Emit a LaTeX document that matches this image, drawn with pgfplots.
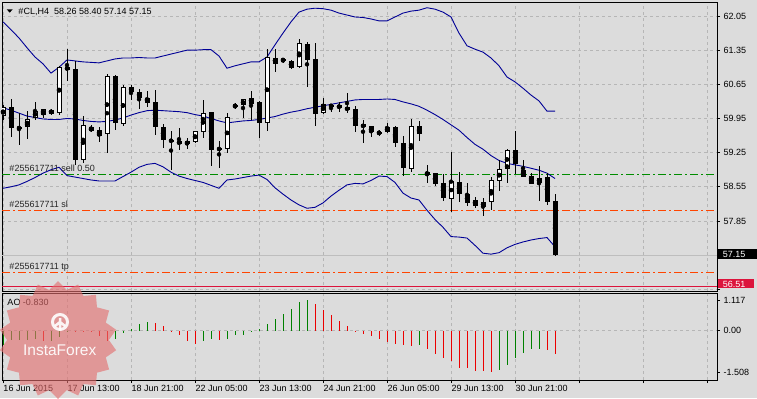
\documentclass[border=0pt]{standalone}
\usepackage{pgfplots}
\pgfplotsset{compat=1.18}
\usepackage{pgfplotstable}
\usepackage{fontspec}
\setmainfont{Liberation Sans}
\usetikzlibrary{shapes.geometric}

\definecolor{bg}{RGB}{220,220,220}
\definecolor{gridc}{RGB}{182,182,182}
\definecolor{band}{RGB}{0,0,150}
\definecolor{sellc}{RGB}{0,140,0}
\definecolor{slc}{RGB}{255,69,0}
\definecolor{crim}{RGB}{220,20,60}
\definecolor{aog}{RGB}{0,128,0}
\definecolor{aor}{RGB}{235,0,0}
\definecolor{bidc}{RGB}{190,190,190}
\definecolor{wm}{RGB}{228,110,110}

\newcommand{\lbl}{\fontsize{9bp}{10bp}\selectfont}

\pgfplotstableread{
i o h l c
0 60.00 60.22 59.92 60.18
1 60.18 60.36 59.58 59.75
2 59.76 60.06 59.41 59.75
3 59.77 60.11 59.54 59.95
4 59.97 60.29 59.92 60.10
5 60.03 60.15 59.97 60.14
6 60.12 60.15 60.03 60.05
7 60.07 61.03 60.02 61.00
8 61.00 61.37 60.72 60.95
9 60.96 61.13 59.00 59.10
10 59.10 60.00 59.03 59.81
11 59.77 59.82 59.67 59.69
12 59.71 59.77 59.47 59.60
13 59.64 60.87 59.25 60.83
14 60.83 60.85 59.71 59.86
15 59.84 60.63 59.80 60.60
16 60.60 60.63 60.32 60.50
17 60.49 60.55 60.14 60.38
18 60.38 60.51 60.18 60.27
19 60.29 60.53 59.61 59.78
20 59.78 59.84 59.35 59.51
21 59.50 59.70 58.89 59.49
22 59.48 59.75 59.30 59.43
23 59.42 59.55 59.33 59.48
24 59.47 59.70 59.44 59.69
25 59.68 60.32 59.56 60.06
26 60.08 60.08 58.98 59.30
27 59.35 59.49 58.94 59.30
28 59.32 60.06 59.25 59.99
29 60.21 60.26 60.14 60.21
30 60.22 60.36 59.97 60.34
31 60.38 60.51 59.92 60.25
32 60.29 60.30 59.56 59.86
33 59.86 61.37 59.70 61.22
34 61.20 61.37 60.90 61.07
35 61.15 61.20 61.08 61.15
36 61.13 61.15 60.96 60.99
37 61.01 61.57 60.99 61.49
38 61.48 61.52 60.60 61.15
39 61.16 61.49 59.80 60.04
40 60.06 60.38 60.04 60.24
41 60.23 60.24 60.09 60.19
42 60.23 60.29 60.09 60.16
43 60.18 60.47 60.06 60.12
44 60.14 60.21 59.68 59.80
45 59.83 59.92 59.44 59.77
46 59.79 59.80 59.58 59.67
47 59.66 59.72 59.60 59.65
48 59.67 59.85 59.66 59.77
49 59.78 59.79 59.36 59.45
50 59.44 59.60 58.78 58.94
51 58.92 59.95 58.86 59.79
52 59.79 59.89 59.50 59.64
53 58.85 58.99 58.63 58.80
54 58.83 58.84 58.57 58.61
55 58.62 58.81 58.26 58.33
56 58.31 59.27 58.04 58.66
57 58.64 58.86 58.25 58.40
58 58.40 58.62 58.15 58.22
59 58.28 58.35 58.12 58.16
60 58.14 58.33 57.96 58.24
61 58.24 58.76 58.07 58.68
62 58.68 59.10 58.47 58.91
63 58.92 59.32 58.62 59.30
64 59.30 59.70 58.81 59.01
65 58.89 59.10 58.76 58.76
66 58.77 58.84 58.61 58.61
67 58.62 58.98 58.27 58.74
68 58.76 58.83 58.17 58.25
69 58.26 58.40 57.14 57.15
}\candles

\pgfplotstableread{
i up mid lo
0 61.93 60.17 58.52
1 61.77 60.12 58.55
2 61.60 60.06 58.59
3 61.40 60.00 58.66
4 61.21 59.97 58.74
5 61.07 59.94 58.83
6 60.88 59.93 58.90
7 61.00 59.93 58.95
8 61.15 59.95 58.78
9 61.13 59.94 58.75
10 61.11 59.91 58.72
11 61.10 59.89 58.69
12 61.09 59.88 58.67
13 61.13 59.89 58.67
14 61.17 59.92 58.67
15 61.19 59.96 58.76
16 61.19 60.02 58.85
17 61.20 60.07 58.95
18 61.19 60.11 59.01
19 61.19 60.12 59.03
20 61.23 60.11 58.96
21 61.27 60.10 58.85
22 61.31 60.09 58.77
23 61.35 60.07 58.72
24 61.35 60.03 58.68
25 61.36 60.00 58.64
26 61.36 59.95 58.58
27 61.23 59.90 58.52
28 60.98 59.86 58.69
29 61.03 59.88 58.71
30 61.07 59.90 58.74
31 61.11 59.91 58.77
32 61.11 59.93 58.79
33 61.21 59.96 58.70
34 61.46 59.99 58.53
35 61.70 60.04 58.40
36 61.93 60.08 58.28
37 62.13 60.11 58.18
38 62.19 60.15 58.11
39 62.21 60.18 58.13
40 62.20 60.21 58.22
41 62.17 60.24 58.36
42 62.11 60.27 58.48
43 62.07 60.30 58.59
44 62.03 60.33 58.62
45 62.02 60.34 58.61
46 61.99 60.34 58.68
47 61.95 60.34 58.77
48 61.95 60.35 58.76
49 62.03 60.34 58.64
50 62.11 60.29 58.42
51 62.15 60.25 58.32
52 62.17 60.20 58.28
53 62.22 60.12 58.07
54 62.19 60.03 57.88
55 62.13 59.93 57.72
56 62.03 59.82 57.53
57 61.70 59.71 57.52
58 61.44 59.56 57.50
59 61.37 59.42 57.35
60 61.31 59.32 57.19
61 61.19 59.19 57.17
62 61.03 59.09 57.20
63 60.80 59.03 57.30
64 60.70 59.00 57.37
65 60.57 58.97 57.42
66 60.43 58.93 57.46
67 60.31 58.89 57.49
68 60.10 58.83 57.51
69 60.10 58.72 57.32
}\bands

\pgfplotstableread{
i v
0 -0.51
1 -0.33
2 -0.33
3 -0.33
4 -0.31
6 -0.37
7 -0.22
8 -0.02
14 -0.29
15 -0.09
16 0.05
17 0.24
18 0.30
25 -0.37
26 -0.31
28 -0.31
29 -0.17
30 -0.17
31 -0.04
32 0.07
33 0.24
34 0.42
35 0.61
36 0.79
37 1.03
38 1.117
52 -0.53
62 -1.41
63 -1.24
64 -1.00
65 -0.82
66 -0.68
67 -0.68
}\aogreen

\pgfplotstableread{
i v
5 -0.39
9 -0.03
10 -0.04
11 -0.05
12 -0.20
13 -0.39
19 0.27
20 0.17
21 -0.02
22 -0.17
23 -0.37
24 -0.48
27 -0.33
39 0.98
40 0.77
41 0.56
42 0.35
43 0.17
44 -0.01
45 -0.11
46 -0.20
47 -0.29
48 -0.40
49 -0.48
50 -0.53
51 -0.57
53 -0.67
54 -0.84
55 -0.98
56 -1.11
57 -1.34
58 -1.37
59 -1.45
60 -1.48
61 -1.508
68 -0.69
69 -0.83
}\aored

\begin{document}
\begin{tikzpicture}[x=1bp,y=1bp]
\useasboundingbox (0,0) rectangle (757,398);
\fill[bg] (0,0) rectangle (757,398);

% ---------- main price panel ----------
\begin{axis}[
  at={(2bp,107bp)}, anchor=south west,
  scale only axis, width=715bp, height=288.7bp,
  xmin=-0.125, xmax=89.25, ymin=56.415, ymax=62.331,
  axis line style={black, line width=0.8bp},
  xtick={0,8,...,88}, xticklabels={},
  xtick style={draw=none},
  ytick={56.45,57.15,57.85,58.55,59.25,59.95,60.65,61.35,62.05},
  yticklabels={,,57.85,58.55,59.25,59.95,60.65,61.35,62.05},
  ytick pos=right, yticklabel pos=right,
  tick align=outside, major tick length=3bp,
  y tick style={black, line width=0.8bp},
  y tick label style={font=\lbl},
  xmajorgrids, ymajorgrids,
  grid style={gridc, dash pattern=on 3bp off 3bp, line width=0.8bp},
]
% horizontal order lines
\addplot[bidc, line width=0.8bp] coordinates {(-0.125,57.15) (89.25,57.15)};
\addplot[crim, line width=0.9bp] coordinates {(-0.125,56.51) (89.25,56.51)};
\addplot[sellc, line width=0.9bp, dash pattern=on 8bp off 3bp on 2bp off 3bp] coordinates {(-0.125,58.81) (89.25,58.81)};
\addplot[slc, line width=0.9bp, dash pattern=on 8bp off 3bp on 2bp off 3bp] coordinates {(-0.125,58.07) (89.25,58.07)};
\addplot[slc, line width=0.9bp, dash pattern=on 8bp off 3bp on 2bp off 3bp] coordinates {(-0.125,56.80) (89.25,56.80)};
% Bollinger bands
\addplot[band, line width=0.9bp] table[x=i,y=up]{\bands};
\addplot[band, line width=0.9bp] table[x=i,y=mid]{\bands};
\addplot[band, line width=0.9bp] table[x=i,y=lo]{\bands};
% wicks
\addplot[only marks, mark=none, error bars/.cd, y dir=both, y explicit, error mark=none,
  error bar style={draw=black, line width=1bp}]
  table[x=i, y expr={(\thisrow{h}+\thisrow{l})/2}, y error expr={(\thisrow{h}-\thisrow{l})/2}]{\candles};
% bodies
\addplot[only marks, mark=none, error bars/.cd, y dir=both, y explicit, error mark=none,
  error bar style={draw=black, line width=5bp}]
  table[x=i, y expr={(\thisrow{o}+\thisrow{c})/2}, y error expr={max(abs(\thisrow{c}-\thisrow{o})/2,0.011)}]{\candles};
% hollow interiors of rising candles
\addplot[only marks, mark=none, error bars/.cd, y dir=both, y explicit, error mark=none,
  error bar style={draw=white, line width=3bp}]
  table[x=i, y expr={(\thisrow{o}+\thisrow{c})/2}, y error expr={max((\thisrow{c}-\thisrow{o})/2-0.0205,0)}]{\candles};
\end{axis}

% ---------- AO panel ----------
\begin{axis}[
  at={(2bp,18bp)}, anchor=south west,
  scale only axis, width=715bp, height=86.7bp,
  xmin=-0.125, xmax=89.25, ymin=-1.79, ymax=1.36,
  axis line style={black, line width=0.8bp},
  xtick={0,8,...,88},
  xticklabels={16 Jun 2015,17 Jun 13:00,18 Jun 21:00,22 Jun 05:00,23 Jun 13:00,24 Jun 21:00,26 Jun 05:00,29 Jun 13:00,30 Jun 21:00,,,},
  xtick pos=bottom, ytick pos=right, yticklabel pos=right,
  tick align=outside, major tick length=3bp,
  tick style={black, line width=0.8bp},
  x tick label style={font=\lbl, anchor=north west, inner sep=0pt, xshift=0.3bp, yshift=-2.5bp},
  y tick label style={font=\lbl},
  ytick={-1.508,1.117}, yticklabels={-1.508,1.117},
  extra y ticks={0}, extra y tick labels={0.00},
  extra y tick style={ymajorgrids=true},
  xmajorgrids,
  grid style={gridc, dash pattern=on 3bp off 3bp, line width=0.8bp},
]
\addplot[ycomb, aog, line width=1bp, mark=none] table[x=i,y=v]{\aogreen};
\addplot[ycomb, aor, line width=1bp, mark=none] table[x=i,y=v]{\aored};
\end{axis}

% ---------- texts ----------
\fill[black] (6.7,388.7) -- (12.7,388.7) -- (9.7,385.3) -- cycle;
\node[anchor=base west, inner sep=0pt, font=\lbl] at (18.3,384) {\#CL,H4\ \ 58.26 58.40 57.14 57.15};
\node[anchor=base west, inner sep=0pt, font=\lbl, text=black!85] at (9.3,226.5) {\#255617711 sell 0.50};
\node[anchor=base west, inner sep=0pt, font=\lbl, text=black!85] at (9.3,190.8) {\#255617711 sl};
\node[anchor=base west, inner sep=0pt, font=\lbl, text=black!85] at (9.3,128.8) {\#255617711 tp};
\node[anchor=base west, inner sep=0pt, font=\lbl] at (7.3,92.5) {AO -0.830};

% price boxes
\fill[black] (718.3,139.3) rectangle (757,149);
\node[anchor=base west, inner sep=0pt, font=\lbl, text=white] at (722.7,140.8) {57.15};
\fill[crim] (718.3,110) rectangle (754,118.7);
\node[anchor=base west, inner sep=0pt, font=\lbl, text=white] at (722.7,110.8) {56.51};

% watermark
\node[star, star points=18, star point ratio=1.16, minimum size=118bp, inner sep=0pt,
  fill=wm, fill opacity=0.62, draw=none] at (58,58) {};
\draw[white, line width=3bp, opacity=0.9] (60,76) circle (7.5);
\draw[white, line width=2.5bp, opacity=0.9] (60,80) -- (60,68) (55,72) -- (60,76) -- (65,72);
\node[font=\fontsize{15.5bp}{17bp}\selectfont, text=white, text opacity=0.92] at (59.7,47.3) {InstaForex};
\end{tikzpicture}
\end{document}
